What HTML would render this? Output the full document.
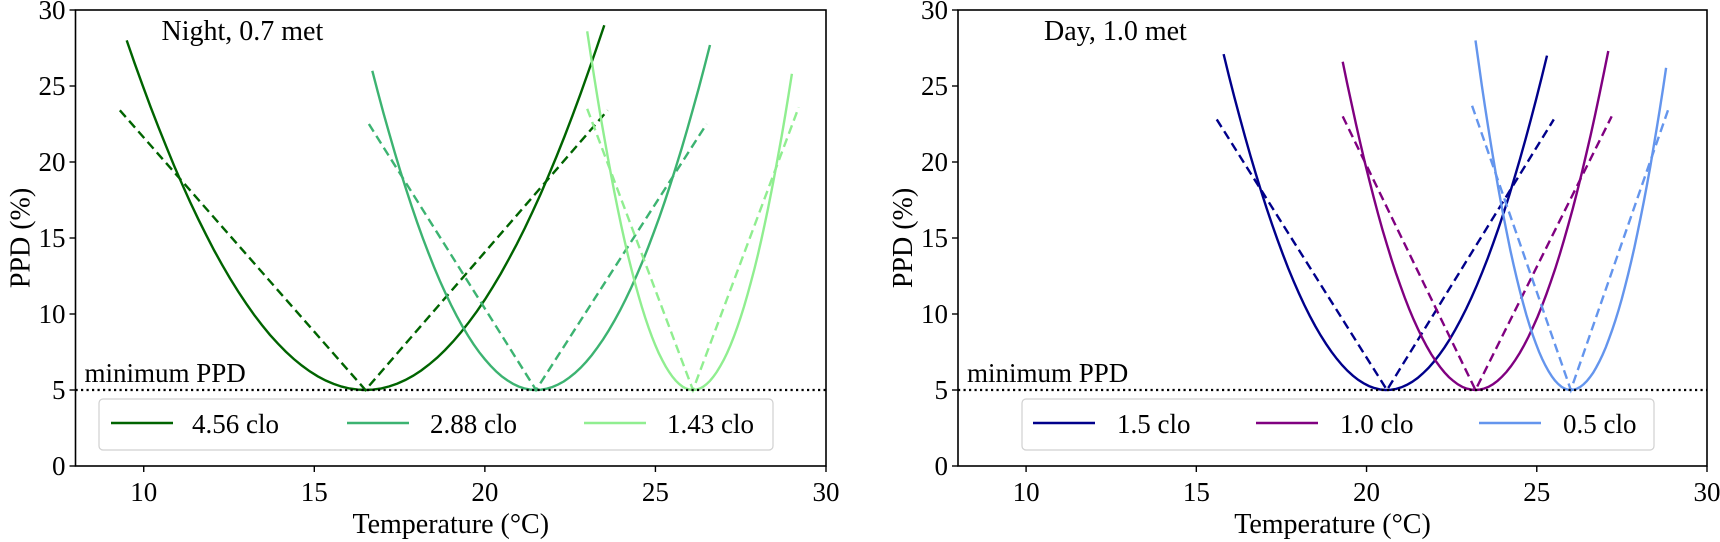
<!DOCTYPE html>
<html><head><meta charset="utf-8"><style>
html,body{margin:0;padding:0;background:#fff;}
svg{display:block;font-family:"Liberation Serif",serif;}
</style></head><body>
<svg id="s" width="1720" height="542" xmlns="http://www.w3.org/2000/svg"></svg>
<script>
const s=document.getElementById('s');
let h='';
function ppd(p){return 100-95*Math.exp(-0.03353*p**4-0.2179*p*p);}
function invp(v){let lo=0,hi=5;for(let i=0;i<60;i++){let m=(lo+hi)/2;if(ppd(m)<v)lo=m;else hi=m;}return lo;}
function panel(x0,x1,title,series,leg){
  const y0=466,yt=10;
  const X=t=>x0+(t-8)*(x1-x0)/22, Y=v=>y0-(v)*(y0-yt)/30;
  h+=`<rect x="${x0}" y="${yt}" width="${x1-x0}" height="${y0-yt}" fill="none" stroke="#000" stroke-width="1.6"/>`;
  for(let v=0;v<=30;v+=5){h+=`<line x1="${x0-6}" x2="${x0}" y1="${Y(v)}" y2="${Y(v)}" stroke="#000" stroke-width="1.4"/><text x="${x0-10}" y="${Y(v)+9}" font-size="27" text-anchor="end">${v}</text>`;}
  for(let t=10;t<=30;t+=5){h+=`<line x1="${X(t)}" x2="${X(t)}" y1="${y0}" y2="${y0+6}" stroke="#000" stroke-width="1.4"/><text x="${X(t)}" y="${y0+35}" font-size="27" text-anchor="middle">${t}</text>`;}
  h+=`<text x="${(x0+x1)/2}" y="533" font-size="28" text-anchor="middle">Temperature (°C)</text>`;
  h+=`<text transform="translate(${x0-46},${(y0+yt)/2}) rotate(-90)" font-size="28" text-anchor="middle">PPD (%)</text>`;
  h+=`<text x="${x0+86}" y="40" font-size="28">${title}</text>`;
  series.forEach(sr=>{
    const [c,a,a1,m,b,b1,da,da1,db,db1]=sr;
    const pa=invp(a1),pb=invp(b1);let pts=[];
    for(let i=0;i<=60;i++){const t=a+(b-a)*i/60;const p=t<m?-pa*(m-t)/(m-a):pb*(t-m)/(b-m);pts.push(X(t).toFixed(1)+','+Y(ppd(p)).toFixed(1));}
    h+=`<polyline points="${pts.join(' ')}" fill="none" stroke="${c}" stroke-width="2.4"/>`;
    h+=`<polyline points="${X(da)},${Y(da1)} ${X(m)},${Y(5)} ${X(db)},${Y(db1)}" fill="none" stroke="${c}" stroke-width="2.4" stroke-dasharray="9,5"/>`;
  });
  h+=`<line x1="${x0}" x2="${x1}" y1="${Y(5)}" y2="${Y(5)}" stroke="#000" stroke-width="2.2" stroke-dasharray="2.2,3.3"/>`;
  h+=`<text x="${x0+9}" y="${Y(5)-8}" font-size="27">minimum PPD</text>`;
  h+=`<rect x="${leg[0]}" y="399" width="${leg[1]-leg[0]}" height="51" rx="4" fill="#fff" fill-opacity="0.8" stroke="#d0d0d0" stroke-width="1.2"/>`;
  leg[2].forEach(e=>{h+=`<line x1="${e[0]}" x2="${e[0]+62}" y1="423" y2="423" stroke="${e[2]}" stroke-width="2.4"/><text x="${e[1]}" y="433" font-size="27">${e[3]}</text>`;});
}
panel(75.5,826,'Night, 0.7 met',[
 ['#006400',9.5,28,16.5,23.5,29,9.3,23.4,23.6,23.4],
 ['#3cb371',16.7,26,21.5,26.6,27.7,16.6,22.5,26.5,22.5],
 ['#90ee90',23,28.6,26.1,29,25.8,23,23.5,29.2,23.6]],
 [99,773,[[111,192,'#006400','4.56 clo'],[347,430,'#3cb371','2.88 clo'],[584,667,'#90ee90','1.43 clo']]]);
panel(958,1707,'Day, 1.0 met',[
 ['#00008b',15.8,27.1,20.6,25.3,27,15.6,22.8,25.5,22.8],
 ['#800080',19.3,26.6,23.2,27.1,27.3,19.3,23,27.2,23],
 ['#6495ed',23.2,28,26,28.8,26.2,23.1,23.7,28.9,23.7]],
 [1022,1654,[[1033,1117,'#00008b','1.5 clo'],[1256,1340,'#800080','1.0 clo'],[1479,1563,'#6495ed','0.5 clo']]]);
s.innerHTML=h;
</script>
</body></html>
